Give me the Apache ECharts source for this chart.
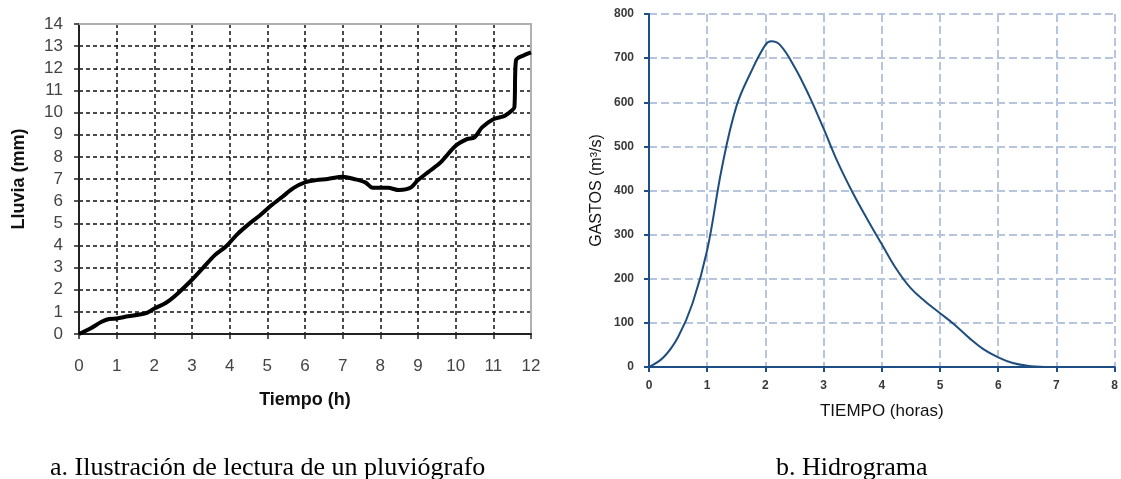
<!DOCTYPE html>
<html>
<head>
<meta charset="utf-8">
<script src="https://cdn.jsdelivr.net/npm/echarts@6/dist/echarts.min.js"></script>
<style>
html,body{margin:0;padding:0;background:#fff;}
#chart{width:1121px;height:479px;}
</style>
</head>
<body>
<div id="chart"></div>
<script>
// Left chart: pluviógrafo (cumulative rain, mm vs hours)
const rainTime = [0,0.3,0.6,0.8,1.0,1.3,1.6,1.8,2.0,2.3,2.6,3.0,3.3,3.6,3.9,4.2,4.5,4.8,5.1,5.4,5.7,6.0,6.3,6.6,7.0,7.3,7.6,7.8,8.2,8.5,8.8,9.0,9.3,9.6,10.0,10.3,10.5,10.7,11.0,11.3,11.5,11.56,11.6,11.8,12.0];
const rainMm   = [0,0.25,0.55,0.68,0.7,0.8,0.88,0.95,1.15,1.4,1.8,2.45,3.0,3.55,3.95,4.5,4.95,5.35,5.8,6.2,6.6,6.85,6.95,7.0,7.1,7.0,6.85,6.6,6.6,6.5,6.6,6.95,7.35,7.75,8.5,8.8,8.88,9.33,9.7,9.85,10.1,10.25,12.35,12.58,12.72];
const rainXTicks = [0,1,2,3,4,5,6,7,8,9,10,11,12];
const rainYTicks = [0,1,2,3,4,5,6,7,8,9,10,11,12,13,14];

// Right chart: hidrograma (discharge m3/s vs hours)
const hydroTime = [0,0.25,0.5,0.75,1.0,1.25,1.5,1.75,2.0,2.1,2.25,2.5,2.75,3.0,3.25,3.5,3.75,4.0,4.25,4.5,4.75,5.0,5.25,5.5,5.75,6.0,6.25,6.5,6.8];
const hydroQ    = [0,22,68,145,265,450,590,668,730,738,730,680,615,540,462,395,335,278,222,178,148,122,96,66,40,22,9,3,0];
const hydroXTicks = [0,1,2,3,4,5,6,7,8];
const hydroYTicks = [0,100,200,300,400,500,600,700,800];

const captionA = 'a. Ilustración de lectura de un pluviógrafo';
const captionB = 'b. Hidrograma';

const chart = echarts.init(document.getElementById('chart'), null, {renderer:'canvas'});

const pair = (xs, ys) => xs.map((x,i)=>[x, ys[i]]);
const serif = '26px "Liberation Serif", "Times New Roman", serif';

const option = {
  animation:false,
  backgroundColor:'#fff',
  textStyle:{fontFamily:'Liberation Sans, Arial, sans-serif'},
  grid:[
    {left:79, top:24, width:452, height:310, show:false},
    {left:649, top:14, width:468, height:353, show:false}
  ],
  xAxis:[
    {
      gridIndex:0, type:'value', min:rainXTicks[0], max:rainXTicks[rainXTicks.length-1], interval:1,
      name:'Tiempo (h)', nameLocation:'middle', nameGap:57,
      nameTextStyle:{fontSize:18, fontWeight:'bold', color:'#111'},
      axisLine:{show:true, onZero:false, lineStyle:{color:'#222', width:2}},
      axisTick:{show:true, length:5, lineStyle:{color:'#222', width:1.5}},
      axisLabel:{fontSize:17, color:'#444', margin:24},
      splitLine:{show:true, lineStyle:{color:'#111', width:1.5, type:[4,3]}}
    },
    {
      gridIndex:0, type:'value', position:'top', min:0, max:12, interval:1,
      axisLine:{show:true, onZero:false, lineStyle:{color:'#b0b0b0', width:2}},
      axisTick:{show:false}, axisLabel:{show:false}, splitLine:{show:false}
    },
    {
      gridIndex:1, type:'value', min:hydroXTicks[0], max:hydroXTicks[hydroXTicks.length-1], interval:1,
      name:'TIEMPO (horas)', nameLocation:'middle', nameGap:36,
      nameTextStyle:{fontSize:17, color:'#111'},
      axisLine:{show:true, onZero:false, lineStyle:{color:'#1d4f86', width:2}},
      axisTick:{show:true, length:5, lineStyle:{color:'#1d4f86', width:2}},
      axisLabel:{fontSize:12, fontWeight:'bold', color:'#3a3a3a', margin:13},
      splitLine:{show:true, lineStyle:{color:'#b6c4de', width:2, type:[8,4]}}
    }
  ],
  yAxis:[
    {
      gridIndex:0, type:'value', min:rainYTicks[0], max:rainYTicks[rainYTicks.length-1], interval:1,
      name:'Lluvia (mm)', nameLocation:'middle', nameGap:51,
      nameTextStyle:{fontSize:18, fontWeight:'bold', color:'#111'},
      axisLine:{show:true, onZero:false, lineStyle:{color:'#222', width:2}},
      axisTick:{show:true, length:5, lineStyle:{color:'#222', width:1.5}},
      axisLabel:{fontSize:17, color:'#444', margin:16},
      splitLine:{show:true, lineStyle:{color:'#111', width:1.5, type:[4,3]}}
    },
    {
      gridIndex:0, type:'value', position:'right', min:0, max:14, interval:1,
      axisLine:{show:true, onZero:false, lineStyle:{color:'#b0b0b0', width:2}},
      axisTick:{show:false}, axisLabel:{show:false}, splitLine:{show:false}
    },
    {
      gridIndex:1, type:'value', min:hydroYTicks[0], max:hydroYTicks[hydroYTicks.length-1], interval:100,
      name:'GASTOS (m³/s)', nameLocation:'middle', nameGap:44,
      nameTextStyle:{fontSize:16, color:'#111'},
      axisLine:{show:true, onZero:false, lineStyle:{color:'#1d4f86', width:2}},
      axisTick:{show:true, length:5, lineStyle:{color:'#1d4f86', width:2}},
      axisLabel:{fontSize:12, fontWeight:'bold', color:'#3a3a3a', margin:15},
      splitLine:{show:true, lineStyle:{color:'#b6c4de', width:2, type:[8,4]}}
    }
  ],
  series:[
    {
      type:'line', xAxisIndex:0, yAxisIndex:0, data:pair(rainTime, rainMm),
      showSymbol:false, smooth:0.3, z:5,
      lineStyle:{color:'#000', width:4}
    },
    {
      type:'line', xAxisIndex:2, yAxisIndex:2, data:pair(hydroTime, hydroQ),
      showSymbol:false, smooth:0.4, z:5,
      lineStyle:{color:'#1f4e7e', width:2}
    }
  ],
  graphic:[
    {type:'text', left:50, top:455, style:{text:captionA, font:serif, fill:'#000'}},
    {type:'text', left:776, top:455, style:{text:captionB, font:serif, fill:'#000'}}
  ]
};
chart.setOption(option);
</script>
</body>
</html>
